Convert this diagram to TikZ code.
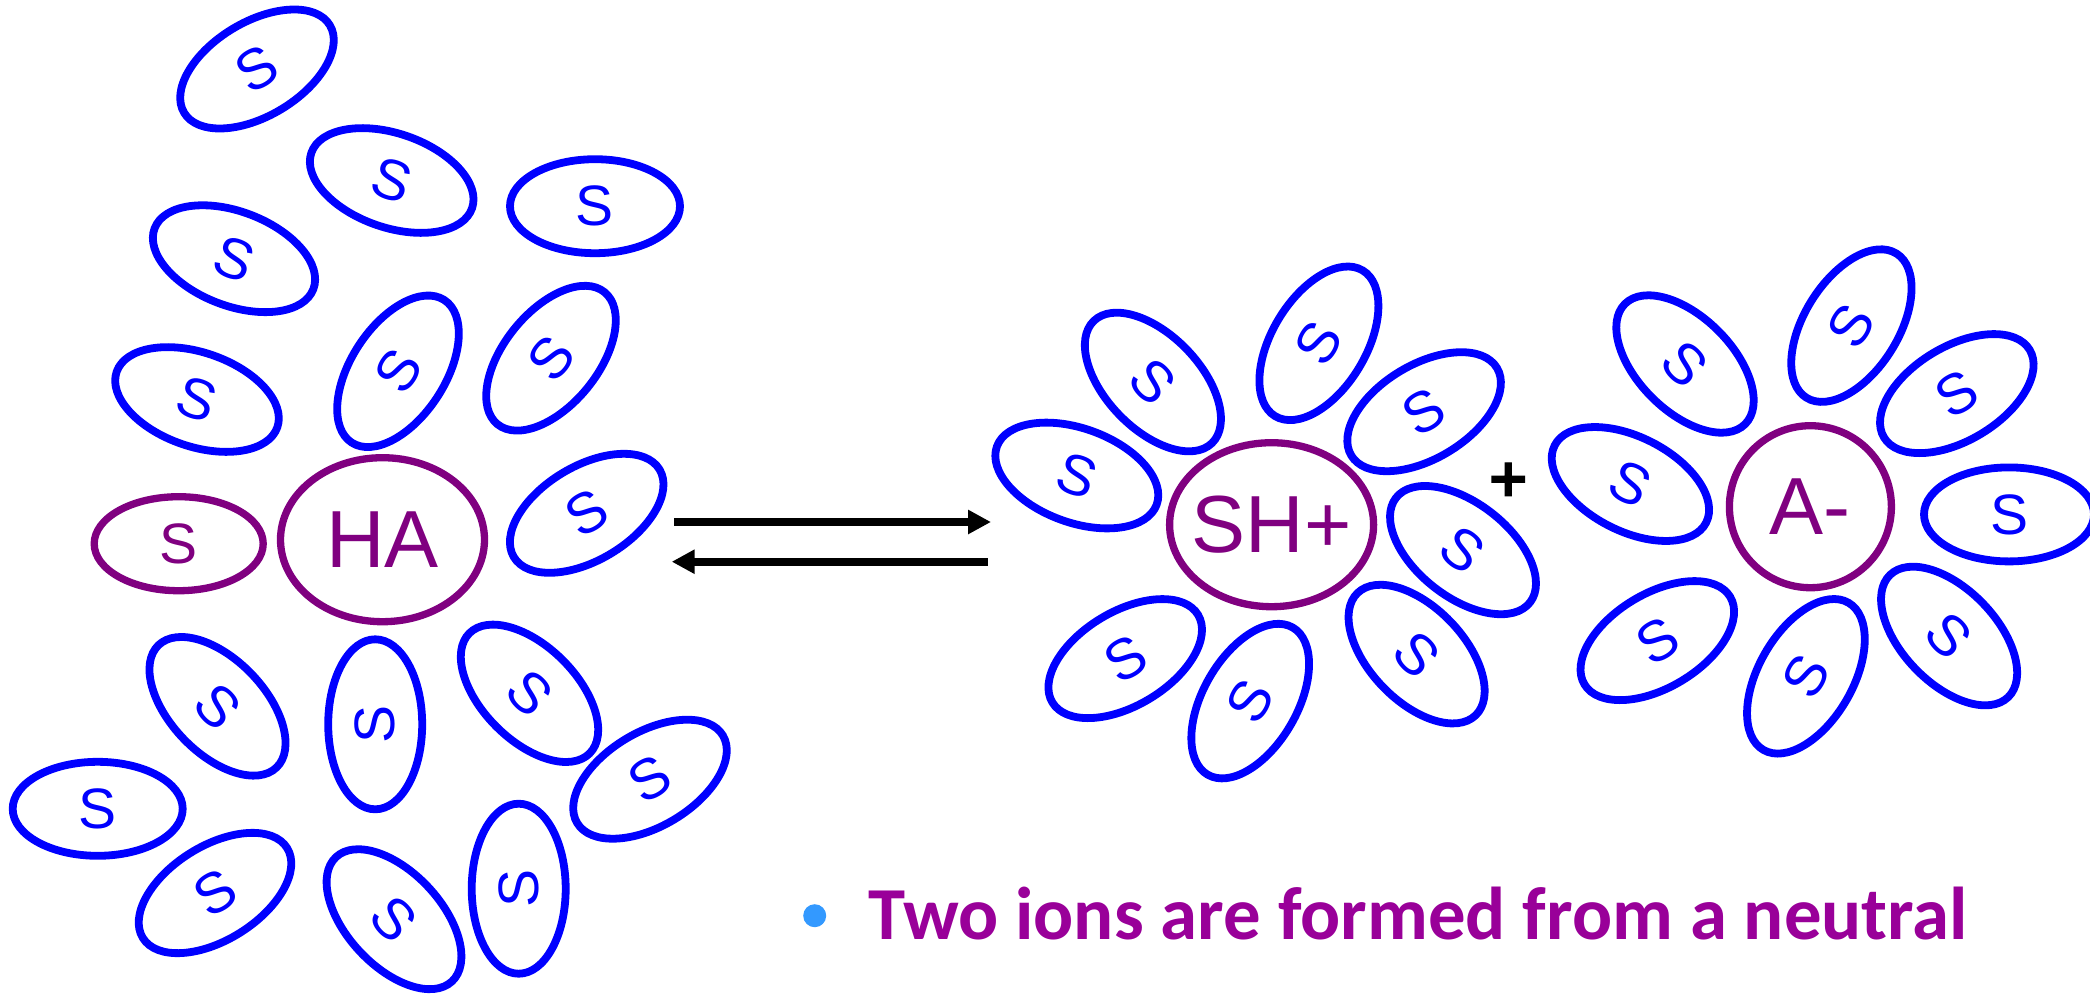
\documentclass[tikz,border=0pt]{standalone}
\usepackage{fontspec}
\setmainfont{Liberation Sans}
\newfontfamily\calib{Carlito}
\newfontfamily\heavyplus[FakeBold=2.5]{DejaVu Sans Bold}
\usetikzlibrary{shapes.geometric,arrows.meta}
\definecolor{solvblue}{RGB}{0,0,255}
\definecolor{ionpurple}{RGB}{128,0,128}
\definecolor{txtpurple}{RGB}{153,0,153}
\definecolor{bulletblue}{RGB}{51,153,255}
\tikzset{
  solv/.style={ellipse, draw=solvblue, line width=7.8pt, minimum width=170pt, minimum height=94pt,
    inner sep=0pt, outer sep=0pt, text=solvblue, font=\fontsize{57}{60}\selectfont},
  ionell/.style={ellipse, draw=ionpurple, line width=7.3pt, minimum width=204pt, minimum height=164pt,
    inner sep=0pt, outer sep=0pt, text=ionpurple, font=\fontsize{81}{84}\selectfont},
  ioncirc/.style={circle, draw=ionpurple, line width=7.3pt, minimum size=162pt,
    inner sep=0pt, outer sep=0pt, text=ionpurple, font=\fontsize{81}{84}\selectfont},
  eqarrow/.style={line width=8pt, -{Triangle[length=23pt,width=23pt]}},
}
\begin{document}
\begin{tikzpicture}[x=1pt,y=1pt]
\fill[white] (0,0) rectangle (2090,-996);
\path[use as bounding box] (0,0) rectangle (2090,-996);

% ---- left cluster: HA with solvent ----
\node[solv, rotate=31]  (e1)  at (257,-69)      {S};
\node[solv, rotate=-19] (e2)  at (391.7,-180.5) {S};
\node[solv]             (e3)  at (595,-206.2)   {S};
\node[solv, rotate=-21] (e4)  at (234,-258.7)   {S};
\node[solv, rotate=57]  (e5)  at (398,-371.3)   {S};
\node[solv, rotate=51]  (e6)  at (551,-358.2)   {S};
\node[solv, rotate=-19] (e7)  at (197,-399.5)   {S};
\node[solv, rotate=31]  (e10) at (586.7,-513.3) {S};
\node[solv, rotate=-46] (e11) at (217.5,-706.3) {S};
\node[solv, rotate=90]  (e12) at (375.2,-724.3) {S};
\node[solv, rotate=-45] (e13) at (529.5,-693.3) {S};
\node[solv]             (e14) at (97.7,-808.8)  {S};
\node[solv, rotate=32]  (e15) at (215,-893)     {S};
\node[solv, rotate=-47] (e16) at (394,-919.2)   {S};
\node[solv, rotate=90]  (e17) at (518.7,-888.7) {S};
\node[solv, rotate=31]  (e18) at (650,-779.2)   {S};

\node[solv, draw=ionpurple, line width=7.3pt, text=ionpurple, minimum width=169pt] (sp) at (178.7,-543.7) {S};
\node[ionell] (ha) at (382.5,-539.7) {\makebox[0pt]{HA}};

% ---- equilibrium arrows ----
\coordinate (f1) at (674.3,-522);
\coordinate (f2) at (991,-522);
\coordinate (b1) at (987.7,-561.7);
\coordinate (b2) at (671.7,-561.7);
\draw[eqarrow] (f1) -- (f2);
\draw[eqarrow] (b1) -- (b2);

% ---- SH+ cluster ----
\node[ionell] (sh) at (1271.6,-524.7) {\makebox[0pt]{SH+}};
\node[solv, rotate=-46] (r1) at (1152.9,-382)   {S};
\node[solv, rotate=59]  (r2) at (1318.9,-343.3) {S};
\node[solv, rotate=31]  (r3) at (1424.1,-411.7) {S};
\node[solv, rotate=-20] (r4) at (1076.8,-475.5) {S};
\node[solv, rotate=-38] (r5) at (1463,-550.1)   {S};
\node[solv, rotate=31]  (r6) at (1125.2,-658.6) {S};
\node[solv, rotate=60]  (r7) at (1250.2,-701.1) {S};
\node[solv, rotate=-46] (r8) at (1416.6,-654.1) {S};

\node[inner sep=0pt, font=\heavyplus\fontsize{52}{56}\selectfont] (plus) at (1508.3,-479.3) {+};

% ---- A- cluster ----
\node[ioncirc] (am) at (1810.4,-506.7) {\makebox[0pt]{A-}};
\node[solv, rotate=-45] (q1) at (1685,-364)     {S};
\node[solv, rotate=58]  (q2) at (1851.4,-325.6) {S};
\node[solv, rotate=31]  (q3) at (1956.8,-393.6) {S};
\node[solv, rotate=-27] (q4) at (1630.4,-484)   {S};
\node[solv]             (q5) at (2009,-514.4)   {S};
\node[solv, rotate=31]  (q6) at (1657.3,-640.6) {S};
\node[solv, rotate=60]  (q7) at (1805.9,-676.3) {S};
\node[solv, rotate=-46] (q8) at (1949.1,-636)   {S};

% ---- bullet text ----
\node[circle, fill=bulletblue, minimum size=23pt, inner sep=0pt] (bul) at (814.7,-915.7) {};
\node[anchor=base west, inner sep=0pt, text=txtpurple,
      font=\calib\bfseries\fontsize{74.8}{78}\selectfont] (txt) at (868,-939.3) {Two ions are formed from a neutral};
\end{tikzpicture}
\end{document}
